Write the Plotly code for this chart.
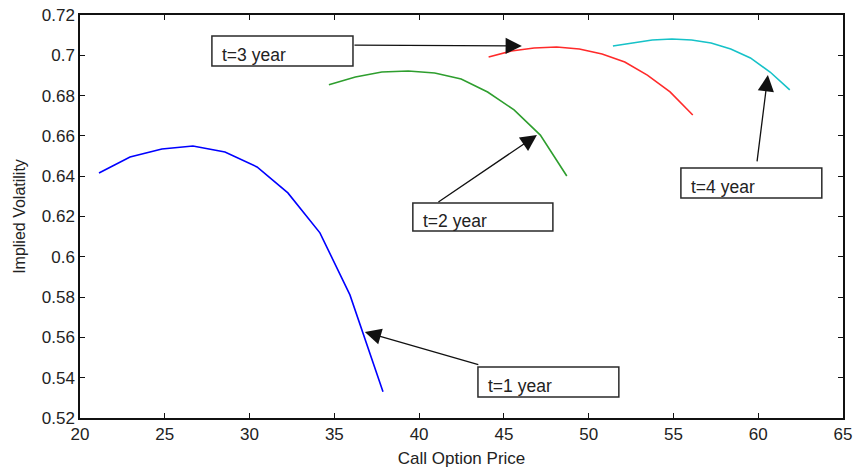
import plotly.graph_objects as go

# ---- data ----
t1_price = [21.12, 22.95, 24.83, 26.66, 28.55, 30.44, 32.26, 34.15, 35.92, 37.87]
t1_vol = [0.6416, 0.6495, 0.6535, 0.6550, 0.6520, 0.6446, 0.6317, 0.6119, 0.5811, 0.5330]

t2_price = [34.68, 36.24, 37.80, 39.36, 40.92, 42.48, 44.04, 45.60, 47.15, 48.71]
t2_vol = [0.6854, 0.6892, 0.6917, 0.6922, 0.6912, 0.6882, 0.6818, 0.6729, 0.6604, 0.6401]

t3_price = [44.10, 45.44, 46.78, 48.11, 49.45, 50.79, 52.13, 53.46, 54.80, 56.14]
t3_vol = [0.6992, 0.7021, 0.7036, 0.7041, 0.7031, 0.7006, 0.6967, 0.6902, 0.6818, 0.6704]

t4_price = [51.43, 52.59, 53.75, 54.91, 56.07, 57.22, 58.38, 59.54, 60.70, 61.86]
t4_vol = [0.7046, 0.7061, 0.7076, 0.7081, 0.7076, 0.7061, 0.7031, 0.6987, 0.6917, 0.6828]

labels = ["t=1 year", "t=2 year", "t=3 year", "t=4 year"]
colors = ["#0000ff", "#2e9e2e", "#ff2a2a", "#16c2c8"]

x_ticks = [20, 25, 30, 35, 40, 45, 50, 55, 60, 65]
y_ticks = [0.52, 0.54, 0.56, 0.58, 0.6, 0.62, 0.64, 0.66, 0.68, 0.7, 0.72]
y_ticktext = ["0.52", "0.54", "0.56", "0.58", "0.6", "0.62", "0.64", "0.66", "0.68", "0.7", "0.72"]

FONT = "Liberation Sans, Arial, Helvetica, sans-serif"

fig = go.Figure()
for xs, ys, c, name in zip([t1_price, t2_price, t3_price, t4_price],
                           [t1_vol, t2_vol, t3_vol, t4_vol], colors, labels):
    fig.add_trace(go.Scatter(x=xs, y=ys, mode="lines", name=name,
                             line=dict(color=c, width=1.6), showlegend=False))

# text boxes: (x0, x1, y0, y1)
boxes = [
    (43.47, 51.78, 0.5304, 0.5453),  # t=1
    (39.63, 47.89, 0.6128, 0.6267),  # t=2
    (27.78, 36.10, 0.6947, 0.7096),  # t=3
    (55.44, 63.75, 0.6292, 0.6441),  # t=4
]
# arrows: (tail x, tail y, tip x, tip y)
arrows = [
    (43.58, 0.5463, 36.80, 0.5627),
    (41.05, 0.6267, 46.95, 0.6604),
    (36.10, 0.7051, 46.06, 0.7046),
    (59.92, 0.6466, 60.57, 0.6902),
]

for (x0, x1, y0, y1), lab in zip(boxes, labels):
    fig.add_shape(type="rect", xref="x", yref="y", x0=x0, x1=x1, y0=y0, y1=y1,
                  line=dict(color="#2a2a2a", width=1.5), fillcolor="white", layer="above")
    fig.add_annotation(x=x0 + 0.5, y=(y0 + y1) / 2 - 0.0020, xref="x", yref="y",
                       text=lab, showarrow=False, xanchor="left", yanchor="middle",
                       font=dict(family=FONT, size=17.5, color="#222222"))

for (ax, ay, x, y) in arrows:
    fig.add_annotation(x=x, y=y, ax=ax, ay=ay, xref="x", yref="y", axref="x", ayref="y",
                       text="", showarrow=True, arrowhead=2, arrowsize=2.5,
                       arrowwidth=1.3, arrowcolor="#111111")

fig.update_layout(
    width=857, height=470,
    margin=dict(l=80, r=14, t=15, b=52, autoexpand=False),
    paper_bgcolor="white", plot_bgcolor="white",
    font=dict(family=FONT, size=17, color="#222222"),
)
fig.update_xaxes(range=[20, 65], tickvals=x_ticks, ticks="inside", ticklen=5,
                 tickcolor="#111", showline=True, linecolor="#111", linewidth=1.5,
                 mirror="ticks", showgrid=False, zeroline=False, automargin=False,
                 title=dict(text="Call Option Price", standoff=9,
                            font=dict(family=FONT, size=17)),
                 tickfont=dict(family=FONT, size=17))
fig.update_yaxes(range=[0.52, 0.72], tickvals=y_ticks, ticktext=y_ticktext,
                 ticks="inside", ticklen=5, tickcolor="#111", showline=True,
                 linecolor="#111", linewidth=1.5, mirror="ticks", showgrid=False,
                 zeroline=False, automargin=False,
                 title=dict(text="Implied Volatility", standoff=12,
                            font=dict(family=FONT, size=16)),
                 tickfont=dict(family=FONT, size=17))

fig.write_html("out.html")
